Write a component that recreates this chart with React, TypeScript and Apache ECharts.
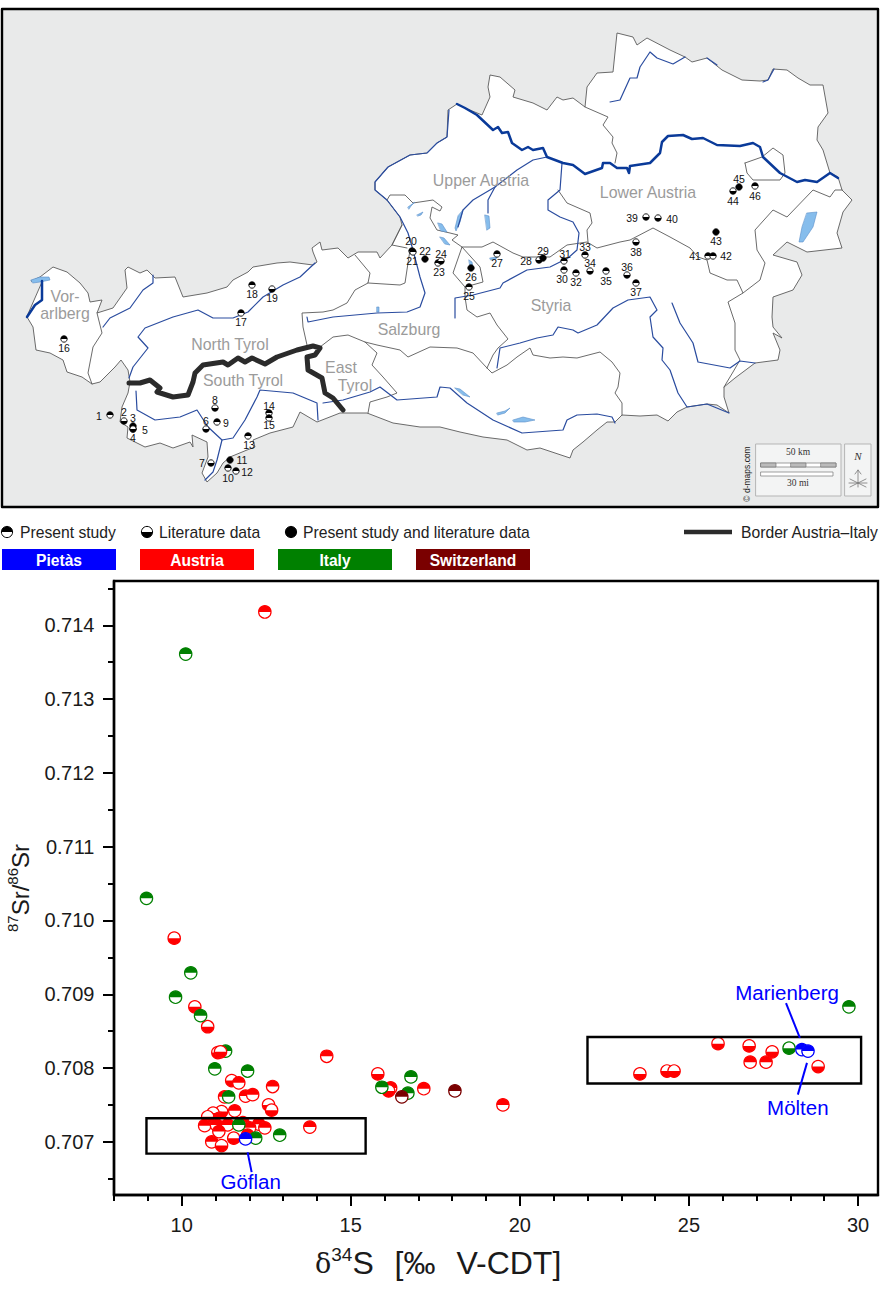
import React, { useEffect, useRef } from "react";
import * as echarts from "echarts";

const FONT = '"Liberation Sans", Arial, sans-serif';

// ---- scatter data: [delta34S, 87Sr/86Sr, half] (half 1 = upper half filled, 0 = lower half filled)
const italyBehind = [[11.30, 0.70823, 1]];
const austria = [
  [12.46, 0.71418, 1], [9.78, 0.70976, 0], [10.39, 0.70883, 0], [10.77, 0.70856, 0],
  [11.07, 0.70821, 0], [11.15, 0.70822, 0], [11.48, 0.70783, 0], [11.69, 0.7078, 1],
  [12.69, 0.70775, 1], [11.27, 0.70761, 1], [11.89, 0.70762, 1], [12.10, 0.70764, 1],
  [12.57, 0.7075, 0], [12.66, 0.70743, 0], [11.57, 0.70742, 1], [11.18, 0.70741, 0],
  [10.93, 0.70739, 0], [10.77, 0.70734, 0], [11.12, 0.70732, 1], [10.68, 0.70722, 1],
  [11.03, 0.70723, 1], [11.36, 0.70723, 1], [11.81, 0.70726, 1], [12.28, 0.70724, 1],
  [12.46, 0.70719, 1], [12.01, 0.70719, 1], [11.10, 0.70714, 1], [11.54, 0.70705, 0],
  [11.95, 0.70709, 1], [10.89, 0.707, 1], [11.18, 0.70695, 0], [13.79, 0.7072, 1],
  [14.29, 0.70816, 1], [15.80, 0.70792, 0], [16.18, 0.70773, 1], [16.12, 0.70769, 0],
  [17.16, 0.70772, 1], [19.50, 0.7075, 1], [25.86, 0.70833, 0], [26.78, 0.7083, 0],
  [27.46, 0.70822, 0], [28.82, 0.70802, 0], [26.81, 0.70808, 1], [27.28, 0.70808, 1],
  [23.55, 0.70792, 0], [24.35, 0.70796, 0], [24.56, 0.70796, 0],
];
const italy = [
  [10.12, 0.71361, 1], [8.96, 0.7103, 1], [10.27, 0.70929, 1], [9.82, 0.70896, 1],
  [10.56, 0.70871, 1], [10.98, 0.70799, 1], [11.95, 0.70796, 1], [11.39, 0.70761, 1],
  [11.69, 0.70723, 1], [12.19, 0.70705, 1], [12.90, 0.70709, 1], [16.78, 0.70788, 1],
  [15.92, 0.70774, 1], [16.69, 0.70766, 1], [29.73, 0.70883, 1], [27.96, 0.70827, 0],
];
const switzerland = [[16.51, 0.70761, 1], [18.08, 0.70769, 1]];
const pietas = [[11.89, 0.70704, 1], [28.34, 0.70825, 1], [28.52, 0.70823, 1]];

const boxes = [[8.96, 0.70732, 15.44, 0.70684], [22.0, 0.70842, 30.09, 0.70779]];
const annotations = [
  { label: "Göflan", x: 12.04, y: 0.70646, x1: 11.95, y1: 0.70686, x2: 12.07, y2: 0.70659 },
  { label: "Marienberg", x: 27.9, y: 0.70903, x1: 27.87, y1: 0.70888, x2: 28.28, y2: 0.70841 },
  { label: "Mölten", x: 28.22, y: 0.70747, x1: 28.49, y1: 0.70807, x2: 28.22, y2: 0.70764 },
];

const xMajor = [10, 15, 20, 25, 30];
const xMinor = [8, 9, 11, 12, 13, 14, 16, 17, 18, 19, 21, 22, 23, 24, 26, 27, 28, 29];
const yMajor = [0.707, 0.708, 0.709, 0.71, 0.711, 0.712, 0.713, 0.714];
const yMinor = [0.7065, 0.7075, 0.7085, 0.7095, 0.7105, 0.7115, 0.7125, 0.7135, 0.7145];

// ---- map tracing, in the map's own units
const austriaOutline = [[42,281],[31,281],[40,277],[53,267],[67,272],[80,283],[88,293],[90,302],[102,300],[97,313],[113,308],[127,288],[125,270],[128,267],[140,273],[147,270],[155,278],[175,277],[183,297],[207,293],[227,287],[233,280],[248,272],[253,267],[277,263],[290,262],[313,265],[317,262],[313,252],[312,248],[320,242],[322,250],[338,248],[348,258],[358,252],[377,252],[380,258],[392,245],[402,225],[400,217],[387,200],[375,190],[375,182],[388,167],[410,155],[427,153],[437,143],[447,137],[448,110],[457,104],[465,108],[482,115],[490,97],[488,87],[490,75],[500,77],[515,90],[513,97],[533,103],[547,110],[557,97],[563,100],[573,98],[585,107],[587,87],[597,73],[613,72],[617,33],[633,37],[637,45],[647,38],[670,50],[685,57],[692,62],[707,58],[722,70],[742,80],[760,81],[768,80],[773,69],[787,70],[798,78],[810,85],[823,85],[828,113],[818,127],[817,140],[823,150],[830,173],[838,177],[842,190],[852,200],[843,212],[837,233],[842,248],[807,252],[787,242],[773,255],[797,262],[802,275],[793,290],[773,297],[772,317],[773,327],[782,338],[773,333],[780,350],[778,360],[755,363],[735,378],[724,387],[724,397],[729,413],[717,405],[707,404],[687,407],[677,412],[668,421],[657,415],[640,416],[622,415],[615,422],[607,422],[597,430],[583,442],[573,450],[570,458],[540,448],[527,450],[507,440],[483,437],[460,432],[440,427],[420,427],[393,423],[367,413],[340,413],[317,422],[300,412],[293,427],[270,433],[253,440],[255,447],[247,450],[230,457],[223,463],[217,473],[207,482],[202,473],[208,457],[207,442],[192,435],[193,447],[190,442],[173,448],[160,443],[145,447],[127,438],[128,427],[120,422],[122,407],[128,393],[130,382],[128,370],[121,360],[115,367],[100,382],[92,384],[82,377],[67,372],[63,360],[50,353],[36,350],[33,327],[27,317]];
const provinceLines = [
  [[97,313],[100,325],[102,333],[93,347],[88,373],[92,384]],
  [[355,255],[370,273],[368,283],[355,290],[347,303],[333,310],[323,312],[302,313],[303,327],[307,345]],
  [[368,283],[400,285],[405,283],[408,263],[410,250]],
  [[320,347],[333,337],[348,335],[365,342],[377,353],[372,365],[383,377],[397,393],[387,397],[370,402],[368,413]],
  [[365,342],[377,345],[400,350],[408,357],[430,347],[457,348],[473,353],[487,368],[492,373],[507,365],[517,357],[530,348],[533,355],[550,358],[563,357],[577,358],[600,352],[612,362],[620,373],[618,387],[615,393],[622,403],[622,415]],
  [[487,368],[493,355],[498,348],[508,339],[497,325],[490,313],[477,317],[467,310],[465,297],[465,287],[483,282],[480,267],[462,247],[453,273],[465,287]],
  [[462,247],[482,247],[493,242],[513,253],[523,257],[550,257],[567,245],[587,242],[597,248],[620,242],[630,240],[653,228],[670,237],[690,248],[698,257],[707,260],[710,273],[727,280],[737,280],[743,293],[728,302],[735,323],[735,350],[740,360],[733,372],[724,387]],
  [[743,293],[760,280],[765,263],[757,250],[755,230],[773,210],[787,217],[813,190],[830,197],[835,190],[842,190]],
  [[585,107],[608,117],[603,125],[613,137],[612,143],[617,153],[615,163]],
  [[558,190],[567,203],[590,213],[592,223],[587,230],[588,242]],
  [[745,163],[747,173],[753,180],[780,180],[785,173],[783,155],[773,148],[767,153],[762,157],[745,163]],
  [[387,200],[390,195],[405,195],[413,203],[433,200],[442,207],[440,211],[432,207],[430,218],[437,230],[450,233],[458,235],[452,240],[462,247]],
  [[402,225],[392,245],[407,248]],
];
const rivers = [
  [[103,327],[110,318],[130,308],[143,290],[153,283],[153,275]],
  [[129,378],[133,367],[148,348],[138,337],[145,328],[173,317],[198,310],[213,318],[233,318],[248,312],[263,297],[283,285],[300,277],[315,263]],
  [[307,317],[308,322],[333,317],[377,313],[407,312],[420,307],[425,293],[420,277],[413,250],[408,233],[400,217],[387,200],[375,190],[375,182],[388,167],[410,155],[427,153],[437,143],[447,137],[449,110]],
  [[610,102],[620,100],[630,78],[637,78],[640,67],[650,52],[657,58],[673,64],[685,57]],
  [[707,58],[717,65]],
  [[763,82],[768,80],[774,69]],
  [[562,163],[560,190],[548,200],[548,210],[560,217],[573,222],[579,233],[577,250],[568,258],[550,267],[527,270],[503,283],[500,288],[473,295],[455,298],[455,318]],
  [[547,157],[533,160],[517,170],[495,187],[473,200],[463,210],[458,227]],
  [[495,187],[488,200],[488,213]],
  [[497,368],[500,348],[520,343],[537,338],[553,335],[558,327],[573,330],[578,333],[597,325],[613,308],[628,300],[650,297],[657,310],[650,317],[653,337],[663,348],[662,360],[670,370],[678,393],[687,407],[707,404],[729,413]],
  [[672,303],[680,323],[693,343],[698,362],[730,368],[740,361],[755,363]],
  [[323,403],[343,400],[370,392],[380,387],[397,400],[437,397],[440,387],[450,388],[467,403],[493,420],[522,433],[563,430],[567,420],[577,415],[597,414],[612,417],[615,423]],
  [[136,391],[137,410],[155,420],[180,417],[197,410],[208,427],[222,440],[217,460],[213,472],[205,480]],
  [[222,440],[233,438],[245,420],[257,397],[260,390],[293,393],[317,403],[318,420]],
];
const majorRivers = [
  [[42,281],[42,300],[35,305],[27,317]],
  [[457,104],[465,108],[477,115],[493,130],[498,127],[502,133],[508,132],[512,143],[522,150],[528,147],[533,150],[543,148],[547,157],[563,163],[573,165],[585,174],[602,168],[603,163],[610,163],[617,168],[627,168],[629,173],[630,166],[650,163],[660,153],[662,142],[668,136],[683,135],[692,139],[703,138],[717,145],[740,146],[753,143],[760,147],[763,157],[780,173],[797,182],[805,180],[817,182],[830,173],[838,178]],
];
const lakes = [
  [[807,213],[817,212],[813,227],[803,242],[799,242],[802,227]],
  [[31,280],[40,277],[49,277],[50,280],[40,282],[33,283]],
  [[485,215],[489,216],[490,228],[487,230]],
  [[463,210],[460,222],[456,231],[455,228],[458,216]],
  [[408,207],[415,202],[411,206],[409,209]],
  [[417,215],[423,212],[421,215],[418,216]],
  [[438,223],[442,224],[447,232],[441,231]],
  [[440,237],[444,238],[450,245],[445,244]],
  [[469,260],[472,262],[473,268],[470,266]],
  [[490,258],[497,257],[496,259],[491,260]],
  [[455,388],[460,389],[470,397],[463,395]],
  [[497,413],[505,411],[510,408],[505,413],[498,415]],
  [[513,420],[523,417],[535,420],[525,422],[514,422]],
  [[377,307],[379,307],[379,312],[377,312]],
];
const italyBorder = [[129,383],[140,383],[150,380],[160,388],[157,392],[173,397],[188,395],[193,382],[195,373],[203,365],[223,362],[228,365],[238,358],[245,362],[252,358],[265,364],[277,357],[297,350],[313,346],[320,348],[315,355],[307,357],[308,370],[322,378],[325,393],[333,398],[343,410]];

const frameRect = [[2,9],[878,9],[878,507],[2,507]];
const scaleBox = [[756,444],[841,444],[841,496],[756,496]];
const northBox = [[845,444],[871,444],[871,496],[845,496]];
const scaleBars = [
  [[761,463],[836,463],[836,467],[761,467]],
  [[761,472],[833,472],[833,476],[761,476]],
];
const scaleDark = [
  [[761,463],[776,463],[776,467],[761,467]],
  [[791,463],[806,463],[806,467],[791,467]],
  [[821,463],[836,463],[836,467],[821,467]],
];
const compassLines = [
  [[858,487],[858,470]], [[855,474],[858,470],[861,474]],
  [[850,479],[866,487]], [[850,487],[866,479]], [[849,483],[867,483]],
];

// ---- sites: name, x, y, kind (P present, L literature, B both), label x, label y
const siteNames = ["1","2","3","4","5","6","7","8","9","10","11","12","13","14","15","16","17","18","19","20","21","22","23","24","25","26","27","28","29","30","31","32","33","34","35","36","37","38","39","40","41","42","43","44","45","46"];
const siteX = [110,124,133,133,133,206,211,215,217,228,230,236,248,269,269,64,241,252,272,412,413,425,438,441,469,471,497,539,543,564,564,576,585,590,606,627,636,636,646,658,708,713,716,733,739,755];
const siteY = [415,421,426,429,429,429,463,408,422,468,460,471,436,413,418,339,313,285,289,251,252,259,263,261,287,268,254,260,258,270,261,273,255,271,271,275,283,242,217,218,256,256,232,191,187,186];
const siteKind = ["P","L","B","P","L","L","L","L","P","P","B","P","P","P","P","P","P","P","L","P","P","B","P","L","P","B","P","L","B","P","P","P","P","L","P","L","P","L","L","L","P","P","B","L","B","P"];
const siteLabelX = [99,124,133,133,145,206,202,215,226,228,242,247,249,269,269,64,241,252,272,411,412,425,439,441,469,471,497,526,543,562,565,576,585,590,606,627,636,636,632,672,695,726,716,733,739,755];
const siteLabelY = [416,412,418,438,430,421,463,400,423,478,460,472,445,406,425,348,322,294,298,241,261,251,272,254,296,277,263,261,251,279,254,282,247,263,281,267,292,252,218,219,256,256,241,201,179,196];

const mapLabels = [
  ["Upper Austria", 481, 180], ["Lower Austria", 648, 192], ["Vor-", 65, 296], ["arlberg", 65, 313],
  ["North Tyrol", 230, 344], ["South Tyrol", 243, 380], ["Salzburg", 409, 329],
  ["East", 341, 367], ["Tyrol", 355, 385], ["Styria", 551, 305],
];

const colors = { austria: "#ff0000", italy: "#008000", switzerland: "#7a0000", pietas: "#0000ff" };
const legendChips = [
  { label: "Pietàs", color: colors.pietas, x: 2 },
  { label: "Austria", color: colors.austria, x: 140 },
  { label: "Italy", color: colors.italy, x: 278 },
  { label: "Switzerland", color: colors.switzerland, x: 416 },
];
const legendKinds = [
  { label: "Present study", kind: "P", cx: 7, tx: 20 },
  { label: "Literature data", kind: "L", cx: 147, tx: 159 },
  { label: "Present study and literature data", kind: "B", cx: 291, tx: 303 },
];

function mark(cx: number, cy: number, r: number, color: string, kind: string, lw: number) {
  const kids: any[] = [
    { type: "circle", shape: { cx, cy, r }, style: { fill: kind === "B" ? color : "#fff", stroke: color, lineWidth: lw }, silent: true },
  ];
  if (kind !== "B") {
    const up = kind === "P";
    kids.push({
      type: "sector",
      shape: { cx, cy, r, r0: 0, startAngle: up ? Math.PI : 0, endAngle: up ? 2 * Math.PI : Math.PI, clockwise: true },
      style: { fill: color },
      silent: true,
    });
  }
  return kids;
}

function txt(text: string, x: number, y: number, fontSize: number, fill: string, extra: any = {}) {
  return {
    type: "text",
    x,
    y,
    silent: true,
    rotation: extra.rotation || 0,
    style: {
      text,
      fill,
      font: `${extra.weight || "normal"} ${fontSize}px ${extra.family || FONT}`,
      fontSize,
      fontFamily: extra.family || FONT,
      fontWeight: extra.weight || "normal",
      fontStyle: extra.fontStyle || "normal",
      align: extra.align || "center",
      textAlign: extra.align || "center",
      verticalAlign: "middle",
      textVerticalAlign: "middle",
    },
  };
}

const mapShapes: { pts: number[][]; fill?: string; stroke?: string; lw?: number }[] = [
  { pts: frameRect, fill: "#e9eaea", stroke: "#000000", lw: 2.4 },
  { pts: austriaOutline, fill: "#ffffff", stroke: "#5a5a5a", lw: 0.9 },
  ...provinceLines.map((pts) => ({ pts, stroke: "#5a5a5a", lw: 0.9 })),
  ...lakes.map((pts) => ({ pts, fill: "#86bdec", stroke: "#5b8fca", lw: 0.6 })),
  ...rivers.map((pts) => ({ pts, stroke: "#2a4c9f", lw: 1.2 })),
  ...majorRivers.map((pts) => ({ pts, stroke: "#0a3a99", lw: 2.5 })),
  { pts: italyBorder, stroke: "#2b2b2b", lw: 5 },
  { pts: scaleBox, fill: "#f3f4f4", stroke: "#b5b5b5", lw: 1 },
  { pts: northBox, fill: "#f3f4f4", stroke: "#b5b5b5", lw: 1 },
  ...scaleBars.map((pts) => ({ pts, fill: "#ffffff", stroke: "#777777", lw: 0.7 })),
  ...scaleDark.map((pts) => ({ pts, fill: "#bbbbbb", stroke: "#777777", lw: 0.7 })),
  ...compassLines.map((pts) => ({ pts, stroke: "#777777", lw: 0.8 })),
];

const pointSeries = (name: string, data: number[][], color: string) => ({
  name,
  type: "custom",
  xAxisIndex: 0,
  yAxisIndex: 0,
  clip: false,
  silent: true,
  data,
  renderItem: (_p: any, api: any) => {
    const [cx, cy] = api.coord([api.value(0), api.value(1)]);
    return { type: "group", children: mark(cx, cy, 6.2, color, api.value(2) ? "P" : "L", 1.2) };
  },
});

export default function App() {
  const ref = useRef<HTMLDivElement>(null);
  useEffect(() => {
    document.body.style.margin = "0";
    const chart = echarts.init(ref.current!, undefined, { renderer: "svg", width: 896, height: 1298 });
    const tickLine = { show: true, inside: false, lineStyle: { color: "#000", width: 2 } };
    chart.setOption({
      animation: false,
      backgroundColor: "#ffffff",
      grid: [
        { left: 114, top: 581, width: 764, height: 614, show: true, borderColor: "#000", borderWidth: 2.4, backgroundColor: "transparent", z: 1, containLabel: false, outerBoundsMode: "none" },
        { left: 0, top: 0, width: 896, height: 1298, show: false, outerBoundsMode: "none" },
      ],
      xAxis: [
        {
          type: "value", gridIndex: 0, min: 8, max: 30.59, splitLine: { show: false },
          axisLine: { show: true, onZero: false, lineStyle: { color: "#000", width: 2.4 } },
          axisTick: { ...tickLine, length: 11, customValues: xMajor },
          axisLabel: { show: true, customValues: xMajor, margin: 20, fontFamily: FONT, fontSize: 20, color: "#1a1a1a", formatter: (v: number) => String(v) },
        },
        {
          type: "value", gridIndex: 0, min: 8, max: 30.59, position: "bottom", splitLine: { show: false },
          axisLine: { show: false, onZero: false },
          axisTick: { ...tickLine, length: 6, customValues: xMinor },
          axisLabel: { show: false },
        },
        { type: "value", gridIndex: 1, min: 0, max: 896, show: false },
      ],
      yAxis: [
        {
          type: "value", gridIndex: 0, min: 0.70628, max: 0.7146, scale: true, splitLine: { show: false },
          axisLine: { show: true, onZero: false, lineStyle: { color: "#000", width: 2.4 } },
          axisTick: { ...tickLine, length: 11, customValues: yMajor },
          axisLabel: { show: true, customValues: yMajor, margin: 19.5, fontFamily: FONT, fontSize: 20, color: "#1a1a1a", formatter: (v: number) => v.toFixed(3) },
          name: "{sup|87}{b|Sr/}{sup|86}{b|Sr}",
          nameLocation: "middle",
          nameGap: 79,
          nameRotate: 90,
          nameTextStyle: {
            rich: {
              b: { fontFamily: FONT, fontSize: 24, color: "#1a1a1a", lineHeight: 30 },
              sup: { fontFamily: FONT, fontSize: 15, color: "#1a1a1a", verticalAlign: "top", lineHeight: 30 },
            },
          },
        },
        {
          type: "value", gridIndex: 0, min: 0.70628, max: 0.7146, scale: true, position: "left", splitLine: { show: false },
          axisLine: { show: false, onZero: false },
          axisTick: { ...tickLine, length: 6, customValues: yMinor },
          axisLabel: { show: false },
        },
        { type: "value", gridIndex: 1, min: 0, max: 1298, inverse: true, show: false },
      ],
      graphic: [
        ...legendKinds.flatMap((k) => [
          ...mark(k.cx, 532, 5.6, "#000000", k.kind, 1),
          txt(k.label, k.tx, 532, 15.7, "#222222", { align: "left" }),
        ]),
        { type: "line", shape: { x1: 684, y1: 532, x2: 732, y2: 532 }, style: { stroke: "#2b2b2b", lineWidth: 4.6 }, silent: true },
        txt("Border Austria–Italy", 741, 532, 15.7, "#222222", { align: "left" }),
        ...legendChips.flatMap((c) => [
          { type: "rect", shape: { x: c.x, y: 549, width: 114, height: 21 }, style: { fill: c.color }, silent: true },
          txt(c.label, c.x + 57, 560, 15.6, "#ffffff", { weight: "bold" }),
        ]),
        {
          type: "text",
          x: 315,
          y: 1263,
          silent: true,
          style: {
            text: "{d|δ}{sup|34}{s|S }{m|[‰ }{b|V-CDT]}",
            fill: "#1a1a1a",
            align: "left",
            verticalAlign: "middle",
            rich: {
              d: { fontFamily: '"DejaVu Serif", serif', fontSize: 27, fill: "#1a1a1a", lineHeight: 36 },
              s: { fontFamily: FONT, fontSize: 32, fill: "#1a1a1a", lineHeight: 36, padding: [0, 12, 0, 0] },
              m: { fontFamily: FONT, fontSize: 32, fill: "#1a1a1a", lineHeight: 36, padding: [0, 12, 0, 0] },
              b: { fontFamily: FONT, fontSize: 32, fill: "#1a1a1a", lineHeight: 36 },
              sup: { fontFamily: FONT, fontSize: 19, fill: "#1a1a1a", verticalAlign: "top", lineHeight: 36 },
            },
          },
        },
      ],
      series: [
        {
          type: "custom", xAxisIndex: 2, yAxisIndex: 2, clip: false, silent: true, z: 0,
          data: mapShapes.map((_, i) => [i, i]),
          renderItem: (p: any, api: any) => {
            const s = mapShapes[p.dataIndex];
            const points = s.pts.map((q) => api.coord(q));
            return {
              type: s.fill ? "polygon" : "polyline",
              shape: { points },
              silent: true,
              style: { fill: s.fill || "none", stroke: s.stroke, lineWidth: s.lw, lineJoin: "round", lineCap: "round" },
            };
          },
        },
        {
          type: "custom", xAxisIndex: 2, yAxisIndex: 2, clip: false, silent: true, z: 0,
          data: siteNames.map((_, i) => [siteX[i], siteY[i], i]),
          renderItem: (_p: any, api: any) => {
            const i = api.value(2);
            const [cx, cy] = api.coord([siteX[i], siteY[i]]);
            const [lx, ly] = api.coord([siteLabelX[i], siteLabelY[i]]);
            return {
              type: "group",
              children: [...mark(cx, cy, 3.2, "#000000", siteKind[i], 0.9), txt(siteNames[i], lx, ly, 10.5, "#111111")],
            };
          },
        },
        {
          type: "custom", xAxisIndex: 2, yAxisIndex: 2, clip: false, silent: true, z: 0,
          data: mapLabels.map((l, i) => [l[1], l[2], i]),
          renderItem: (_p: any, api: any) => {
            const l = mapLabels[api.value(2)];
            const [x, y] = api.coord([l[1], l[2]]);
            return txt(l[0] as string, x, y, 15.9, "#9b9b9b");
          },
        },
        {
          type: "custom", xAxisIndex: 2, yAxisIndex: 2, clip: false, silent: true, z: 0,
          data: [[798, 452, 0], [798, 483, 1], [858, 456, 2], [747, 474, 3]],
          renderItem: (_p: any, api: any) => {
            const i = api.value(2);
            const [x, y] = api.coord([api.value(0), api.value(1)]);
            if (i === 0) return txt("50 km", x, y, 9.5, "#333", { family: '"Liberation Serif", serif' });
            if (i === 1) return txt("30 mi", x, y, 9.5, "#333", { family: '"Liberation Serif", serif' });
            if (i === 2) return txt("N", x, y, 11, "#333", { family: '"Liberation Serif", serif', fontStyle: "italic" });
            return txt("© d-maps.com", x, y, 8.5, "#222", { rotation: Math.PI / 2 });
          },
        },
        pointSeries("Italy (behind)", italyBehind, colors.italy),
        pointSeries("Austria", austria, colors.austria),
        pointSeries("Italy", italy, colors.italy),
        pointSeries("Switzerland", switzerland, colors.switzerland),
        pointSeries("Pietàs", pietas, colors.pietas),
        {
          type: "custom", xAxisIndex: 0, yAxisIndex: 0, clip: false, silent: true,
          data: boxes,
          renderItem: (_p: any, api: any) => {
            const a = api.coord([api.value(0), api.value(1)]);
            const b = api.coord([api.value(2), api.value(3)]);
            return {
              type: "rect",
              shape: { x: a[0], y: a[1], width: b[0] - a[0], height: b[1] - a[1] },
              style: { fill: "none", stroke: "#000", lineWidth: 2.4 },
              silent: true,
            };
          },
        },
        {
          type: "custom", xAxisIndex: 0, yAxisIndex: 0, clip: false, silent: true,
          data: annotations.map((a, i) => [a.x, a.y, i]),
          renderItem: (_p: any, api: any) => {
            const a = annotations[api.value(2)];
            const t = api.coord([a.x, a.y]);
            const p1 = api.coord([a.x1, a.y1]);
            const p2 = api.coord([a.x2, a.y2]);
            return {
              type: "group",
              children: [
                { type: "line", shape: { x1: p1[0], y1: p1[1], x2: p2[0], y2: p2[1] }, style: { stroke: "#0000ff", lineWidth: 2 }, silent: true },
                txt(a.label, t[0], t[1], 20.5, "#0000ff"),
              ],
            };
          },
        },
      ],
    });
    return () => chart.dispose();
  }, []);
  return <div ref={ref} style={{ position: "absolute", left: 0, top: 0, width: 896, height: 1298 }} />;
}
